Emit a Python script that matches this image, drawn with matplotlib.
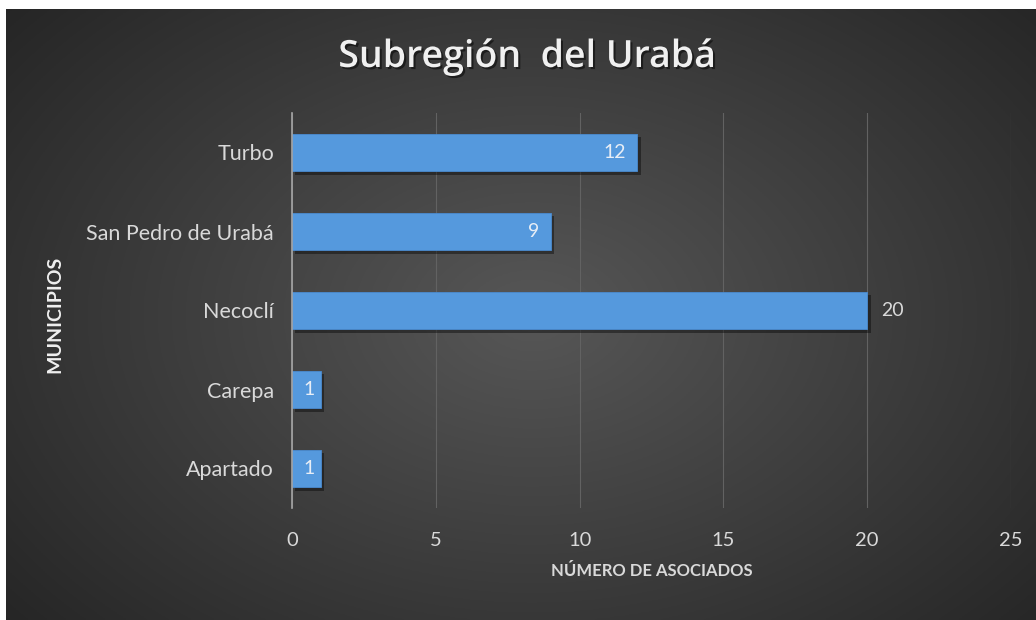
import matplotlib
matplotlib.use("Agg")
import matplotlib.pyplot as plt
import matplotlib.patheffects as pe
import numpy as np

# data
municipios = ["Apartado", "Carepa", "Necoclí", "San Pedro de Urabá", "Turbo"]
asociados = [1, 1, 20, 9, 12]
inside = [True, True, False, True, True]
xticks = [0, 5, 10, 15, 20, 25]

plt.rcParams['font.family'] = ['Lato', 'DejaVu Sans']

fig = plt.figure(figsize=(10.36, 6.2), dpi=100)
fig.patch.set_facecolor('white')

# dark radial background
bg = fig.add_axes([6/1036, 0, 1030/1036, 611/620])
yy, xx = np.mgrid[0:300, 0:500]
cx, cy = 255, 150
r = np.sqrt(((xx - cx) / 330.0) ** 2 + ((yy - cy) / 230.0) ** 2)
g = np.clip(0.34 - 0.19 * r, 0.14, 0.34)
bg.imshow(np.dstack([g, g, g]), aspect='auto', extent=[0, 1, 0, 1])
bg.set_axis_off()

ax = fig.add_axes([292/1036, 1 - 508/620, (1011 - 292)/1036, (508 - 113)/620])
ax.patch.set_alpha(0)

y = np.arange(len(municipios))
bars = ax.barh(y, asociados, height=0.47, color='#5599dd', edgecolor='#4a8bd0',
               linewidth=0.6, zorder=3)
for b in bars:
    b.set_path_effects([pe.SimplePatchShadow(offset=(2.5, -2.5), shadow_rgbFace='black', alpha=0.4),
                        pe.Normal()])

for yi, v, ins in zip(y, asociados, inside):
    if ins:
        ax.annotate(str(v), (v, yi), xytext=(-8 if v > 1 else -4, 0), textcoords='offset points',
                    ha='right', va='center', color='#e8eef6', fontsize=14, zorder=4)
    else:
        ax.annotate(str(v), (v, yi), xytext=(10, 0), textcoords='offset points',
                    ha='left', va='center', color='#d9d9d9', fontsize=14, zorder=4)

ax.set_xlim(0, 25)
ax.set_ylim(-0.5, len(municipios) - 0.5)
ax.set_xticks(xticks)
ax.set_yticks(y)
ax.set_yticklabels(municipios)
ax.tick_params(axis='x', length=0, colors='#d9d9d9', labelsize=14.5, pad=17)
ax.tick_params(axis='y', length=0, colors='#d9d9d9', labelsize=15.5, pad=13)
ax.grid(axis='x', color='#626262', linewidth=0.8, zorder=0)
for s in ['top', 'right', 'bottom']:
    ax.spines[s].set_visible(False)
ax.spines['left'].set_color('#a6a6a6')
ax.spines['left'].set_linewidth(1.2)
ax.spines['left'].set_zorder(4)

ax.set_xlabel("NÚMERO DE ASOCIADOS", color='#d9d9d9', fontsize=12, fontweight='bold',
              labelpad=10)
fig.text(55/1036, 1 - 314/620, "MUNICIPIOS", rotation=90, color='#f0f0f0',
         fontsize=14, fontweight='bold', ha='center', va='center')

t = fig.text(527/1036, 1 - 57/620, "Subregión  del Urabá", color='#f0f0f0',
             fontsize=27, fontweight='semibold', ha='center', va='center',
             family=['Open Sans', 'DejaVu Sans'])
t.set_path_effects([pe.withSimplePatchShadow(offset=(1.5, -1.5), shadow_rgbFace='black', alpha=0.5)])

fig.savefig("out.png", dpi=100, facecolor=fig.get_facecolor())
